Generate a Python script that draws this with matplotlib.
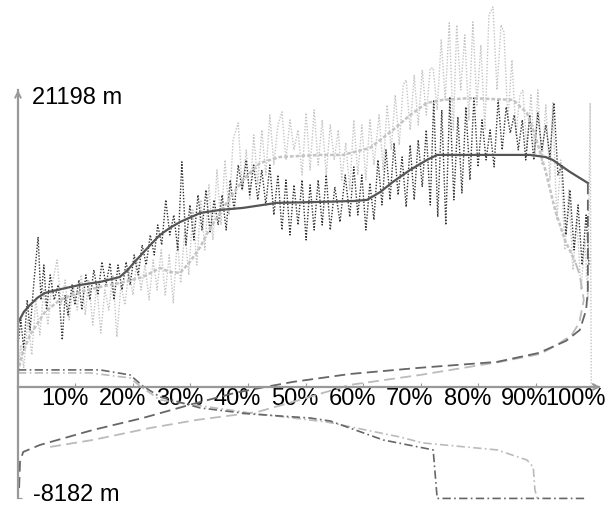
import matplotlib
matplotlib.use("Agg")
import matplotlib.pyplot as plt
from matplotlib.transforms import ScaledTranslation

plt.rcParams['font.family'] = ['Liberation Sans', 'DejaVu Sans']

# x in percent of the route, y in metres
# raw profile (dark, dotted)
raw_dark = [(0.0, 3080), (0.5, 4920), (1.0, 2720), (1.6, 6390), (2.1, 4180), (2.8, 7850), (3.5, 11010),
            (4.0, 6390), (4.5, 8950), (5.0, 5650), (5.6, 8220), (6.3, 6390), (7.0, 7490), (7.7, 3450),
            (8.2, 6750), (8.7, 5280), (9.4, 7490), (9.9, 6020), (10.6, 7850), (11.1, 5650), (11.8, 8220),
            (12.5, 6390), (13.2, 8590), (13.9, 6750), (14.6, 9180), (15.3, 7490), (16.0, 9100), (16.7, 6390),
            (17.4, 8950), (18.1, 7120), (18.8, 9180), (19.5, 7490), (20.2, 9690), (20.9, 8220), (21.6, 10420),
            (22.3, 8950), (23.0, 11160), (23.7, 9690), (24.3, 11890), (25.0, 10420), (25.7, 13730),
            (26.4, 11160), (27.1, 12620), (27.8, 10060), (28.5, 16520), (29.2, 10420), (29.9, 13360),
            (30.6, 10790), (31.3, 14090), (32.0, 11520), (32.7, 14460), (33.4, 11300), (34.1, 13730),
            (34.8, 11890), (35.5, 14090), (36.2, 11520), (36.9, 15190), (37.6, 12990), (38.3, 16290),
            (39.0, 14460), (39.7, 16660), (40.3, 14090), (41.0, 16290), (41.7, 13730), (42.4, 15930),
            (43.1, 13360), (43.8, 16290), (44.5, 12620), (45.2, 15560), (45.9, 11520), (46.6, 15190),
            (47.3, 11160), (48.0, 14830), (48.7, 11890), (49.4, 15190), (50.1, 10790), (50.8, 14830),
            (51.5, 11520), (52.2, 15190), (52.9, 11890), (53.6, 15560), (54.3, 11520), (55.1, 14680),
            (56.0, 12110), (56.9, 15560), (57.7, 12480), (58.4, 16150), (59.1, 12620), (59.8, 15560),
            (60.5, 11520), (61.2, 14970), (61.9, 12260), (62.6, 16660), (63.3, 13360), (64.0, 17400),
            (64.7, 13730), (65.4, 17910), (66.1, 14090), (66.8, 16880), (67.5, 13210), (68.2, 17760),
            (68.9, 13730), (69.6, 18130), (70.3, 14680), (71.0, 18860), (71.7, 13360), (72.3, 21070),
            (73.0, 12480), (73.7, 20330), (74.4, 11890), (75.1, 21290), (75.8, 13730), (76.5, 19820),
            (77.2, 14240), (77.9, 20550), (78.6, 15190), (79.3, 21290), (80.0, 16150), (80.7, 19600),
            (81.4, 16660), (82.1, 18860), (82.8, 16150), (83.5, 21070), (84.2, 17400), (84.9, 20550),
            (85.6, 18640), (86.3, 19960), (87.0, 17400), (87.7, 19600), (88.3, 16660), (89.0, 19960),
            (89.7, 16660), (90.4, 20110), (91.1, 17400), (91.8, 19230), (92.5, 16880), (93.2, 20850),
            (93.9, 15560), (94.6, 16290), (95.3, 11160), (96.0, 14460), (96.7, 10060), (97.4, 13360),
            (98.1, 8950), (98.8, 12620), (99.3, 8950)]

# second raw profile (light, dotted)
raw_light = [(0.0, 1100), (0.5, 3080), (1.0, 1390), (1.7, 4920), (2.4, 2350), (3.1, 6390), (3.8, 3820),
             (4.5, 7120), (5.2, 4550), (5.9, 7490), (6.8, 9320), (7.5, 6020), (8.2, 7850), (8.9, 4920),
             (9.6, 7490), (10.3, 5650), (11.0, 8220), (11.7, 5280), (12.3, 7850), (13.0, 4550), (13.7, 7490),
             (14.4, 3960), (15.1, 7120), (15.8, 5650), (16.5, 8220), (17.2, 3670), (17.9, 7490), (18.6, 6020),
             (19.3, 8590), (20.0, 6750), (20.7, 9470), (21.4, 7120), (22.1, 8950), (22.8, 6390), (23.5, 9320),
             (24.2, 7120), (24.9, 10060), (25.6, 6750), (26.3, 9690), (27.0, 6170), (27.7, 10790),
             (28.3, 7630), (29.0, 11520), (29.7, 8220), (30.4, 12990), (31.1, 8950), (31.8, 13730),
             (32.5, 10060), (33.2, 14830), (33.9, 10790), (34.6, 15930), (35.3, 11890), (36.0, 16660),
             (36.7, 12620), (37.4, 18130), (38.3, 19380), (39.0, 14460), (39.7, 17400), (40.3, 13730),
             (41.0, 18500), (41.7, 14830), (42.4, 18860), (43.1, 15560), (43.8, 19960), (44.5, 16290),
             (45.2, 19230), (45.9, 20190), (46.6, 16660), (47.3, 19600), (48.0, 17400), (48.7, 18860),
             (49.4, 15560), (50.1, 20110), (50.8, 15930), (51.5, 20330), (52.2, 16290), (52.9, 19600),
             (53.6, 15560), (54.3, 19230), (55.0, 16660), (55.7, 18860), (56.3, 15190), (57.0, 17910),
             (57.7, 14460), (58.4, 19600), (59.1, 15560), (59.8, 19230), (60.5, 15190), (61.2, 19600),
             (61.9, 16290), (62.8, 19960), (63.5, 15930), (64.2, 20700), (64.9, 17400), (65.6, 21430),
             (66.3, 17760), (67.0, 22170), (67.5, 22530), (68.2, 18860), (68.9, 22900), (69.6, 19230),
             (70.3, 23270), (71.0, 19960), (71.7, 23410), (72.2, 23410), (72.9, 20330), (73.6, 25470),
             (74.3, 21070), (75.0, 26720), (75.7, 18860), (76.3, 26570), (77.0, 21800), (77.7, 25840),
             (78.4, 19600), (79.1, 26790), (79.8, 20700), (80.5, 25100), (81.2, 18860), (81.9, 27300),
             (82.6, 27890), (83.3, 21800), (84.0, 26570), (84.5, 26060), (85.2, 19600), (85.9, 24000),
             (86.6, 18500), (87.3, 21430), (87.8, 21800), (88.5, 17400), (89.2, 21430), (89.9, 17030),
             (90.4, 21800), (91.1, 16290), (91.8, 20700), (92.5, 15190), (93.0, 20850), (93.7, 12260),
             (94.4, 16660), (95.1, 10060), (95.8, 14460), (96.5, 8590), (97.2, 12260), (97.9, 7120),
             (98.6, 10790), (99.1, 6390), (99.5, 20850), (99.7, 70)]

# smoothed profiles
smooth_dark = [(0.0, 4700), (1.0, 5500), (2.1, 6020), (3.4, 6550), (4.7, 6900), (6.8, 7120), (10.8, 7490),
               (14.3, 7710), (17.7, 8070), (19.0, 8550), (20.3, 9180), (23.0, 10420), (24.7, 11160),
               (26.5, 11700), (28.2, 12110), (31.7, 12770), (35.1, 12990), (39.1, 13140), (45.0, 13510),
               (52.5, 13580), (58.5, 13650), (60.7, 13730), (63.0, 14310), (65.2, 15050), (68.2, 15930),
               (71.1, 16660), (72.9, 17030), (78.6, 17030), (89.0, 17030), (91.7, 16880), (93.0, 16660),
               (96.0, 15780), (99.1, 14970)]

smooth_light = [(0.0, 1100), (0.7, 2350), (2.1, 3820), (4.7, 5510), (7.3, 6390), (10.8, 6970),
                (14.3, 7340), (17.7, 7630), (21.7, 8070), (24.7, 8730), (26.4, 8440), (28.2, 8370),
                (29.9, 9180), (31.7, 10280), (33.4, 11670), (36.3, 13510), (39.1, 15190), (42.1, 16440),
                (45.6, 16880), (52.5, 17030), (56.5, 17030), (61.2, 17540), (65.2, 18860), (68.2, 19960),
                (71.1, 20850), (73.9, 21070), (78.6, 21198), (86.1, 21070), (88.5, 20110), (89.9, 18500),
                (91.7, 15930), (93.4, 12990), (95.1, 10790), (96.9, 9180)]

# return curves (dashed)
return_dark = [(0.2, -7410), (0.35, -5510), (0.9, -4770), (3.8, -4260), (13.0, -3160), (21.7, -2280),
               (30.4, -1250), (37.7, -440), (43.0, 0), (47.8, 370), (57.7, 950), (69.4, 1390),
               (83.3, 1840), (90.6, 2500), (95.3, 3380), (97.7, 4180), (98.8, 5650), (99.1, 7120),
               (99.1, 14970)]

return_light = [(5.6, -4400), (13.0, -3890), (23.0, -3010), (31.1, -2420), (41.6, -1840), (49.0, -950),
                (57.7, 150), (69.9, 880), (83.8, 1840), (90.8, 2420), (93.7, 3080), (96.3, 3820),
                (97.6, 4700), (98.4, 6390), (97.7, 8220), (96.9, 9180)]

# descent curves (dash-dot)
descent_dark = [(0.0, 1250), (14.3, 1250), (19.5, 880), (21.7, 70), (24.7, -730), (31.7, -1540),
                (40.3, -1980), (50.8, -2280), (54.3, -2500), (63.5, -3890), (72.2, -4620), (72.9, -8182),
                (98.8, -8182)]

descent_light = [(0.0, 1030), (12.5, 1030), (19.5, 660), (21.2, 70), (24.7, -950), (40.3, -1910),
                 (53.7, -2570), (66.4, -3670), (70.4, -4110), (83.3, -4620), (88.5, -5360), (89.6, -5870),
                 (89.9, -7560), (90.3, -8182)]

y_top, y_bottom = 21198, -8182
x_ticks = [10, 20, 30, 40, 50, 60, 70, 80, 90, 100]
x_labels = ['10%', '20%', '30%', '40%', '50%', '60%', '70%', '80%', '90%', '100%']

fig = plt.figure(figsize=(6.16, 5.12), dpi=100)
ax = fig.add_axes([0.0292, 0.0207, 0.9503, 0.9793])
ax.set_xlim(0, 101.8)
ax.set_ylim(-8400, 28400)


def draw(pts, **kw):
    xs, ys = zip(*pts)
    ax.plot(xs, ys, **kw)


draw(raw_light, color='#c4c4c4', lw=1.0, ls=(0, (1, 1.2)))
draw(raw_dark, color='#333333', lw=1.0, ls=(0, (1, 1.2)))
draw(smooth_light, color='#c4c4c4', lw=1.8, ls=(0, (1.5, 0.8)))
draw(smooth_dark, color='#555555', lw=1.6)
draw(return_light, color='#bbbbbb', lw=1.3, ls=(0, (6, 3)))
draw(return_dark, color='#666666', lw=1.3, ls=(0, (6, 3)))
draw(descent_light, color='#bbbbbb', lw=1.2, ls=(0, (5, 2, 1, 2)))
draw(descent_dark, color='#666666', lw=1.2, ls=(0, (5, 2, 1, 2)))

# axes
for s in ['top', 'right']:
    ax.spines[s].set_visible(False)
ax.spines['bottom'].set_position(('data', 0))
ax.spines['left'].set_bounds(y_bottom, 21800)
ax.spines['bottom'].set_bounds(0, 101)
for s in ['left', 'bottom']:
    ax.spines[s].set_color('#999999')
    ax.spines[s].set_linewidth(1.6)
ax.annotate('', xy=(0, 22000), xytext=(0, 21000),
            arrowprops=dict(arrowstyle='->', color='#999999', lw=1.4))
ax.annotate('', xy=(101.8, 0), xytext=(100.5, 0),
            arrowprops=dict(arrowstyle='->', color='#999999', lw=1.4))

ax.set_yticks([y_bottom])
ax.set_yticklabels([''])
ax.tick_params(axis='y', direction='in', length=3, color='#999999')
ax.set_xticks(x_ticks)
ax.set_xticklabels(x_labels, fontsize=17)
ax.tick_params(axis='x', direction='in', length=3, color='#999999', pad=0.5)
for lab in ax.get_xticklabels():
    lab.set_horizontalalignment('right')
    lab.set_transform(lab.get_transform() + ScaledTranslation(0.13, 0, fig.dpi_scale_trans))

ax.text(2.4, y_top, f'{y_top} m', fontsize=17, va='center', ha='left')
ax.text(2.6, y_bottom + 250, f'{y_bottom} m', fontsize=17, va='center', ha='left')

fig.savefig('out.png', dpi=100)
